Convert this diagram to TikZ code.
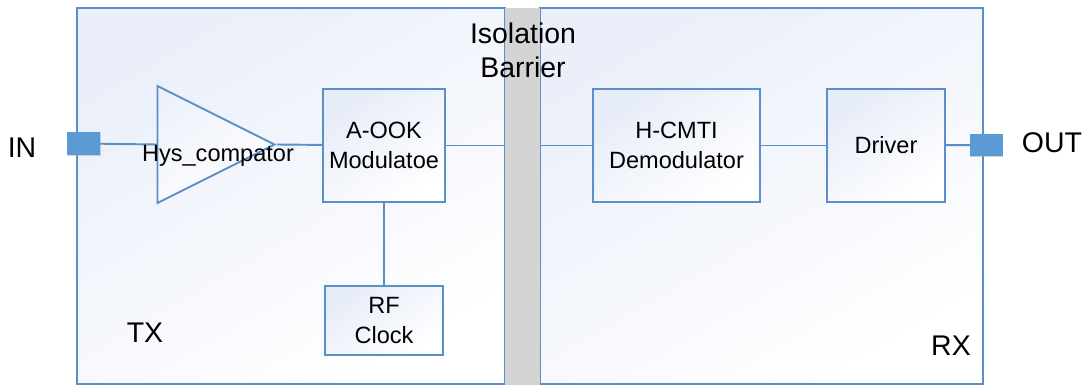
\documentclass[tikz,border=0pt]{standalone}
\usepackage{fontspec}
\setmainfont{Liberation Sans}
\usepackage{tikz}
\usetikzlibrary{shapes}
\usetikzlibrary{shapes.geometric}
\usetikzlibrary{shadows}
\pgfdeclarelayer{bglayer}
\pgfdeclarelayer{edgelayer}
\pgfdeclarelayer{nodelayer}
\pgfsetlayers{bglayer,edgelayer,nodelayer,main}
\definecolor{lineblue}{RGB}{91,143,201}
\definecolor{portblue}{RGB}{91,155,213}
\definecolor{shadeblue}{RGB}{230,236,248}
\definecolor{barriergray}{RGB}{212,212,212}
\tikzstyle{none}=[inner sep=0pt]
\tikzstyle{block}=[rectangle, draw=lineblue, line width=1.1pt, top color=shadeblue, bottom color=white, shading angle=35, align=center, font=\fontsize{13.4}{17}\selectfont]
\tikzstyle{side}=[rectangle, draw=lineblue, line width=1.1pt, top color=shadeblue!85, bottom color=white, shading angle=30]
\tikzstyle{port}=[rectangle, fill=portblue, minimum width=0.66cm, minimum height=0.46cm, drop shadow={shadow xshift=0.4pt, shadow yshift=-0.4pt, fill=black!35}]
\tikzstyle{bigtext}=[inner sep=0pt, font=\fontsize{16.2}{19.3}\selectfont, align=center]
\tikzstyle{wire}=[draw=lineblue, line width=1.1pt]

\begin{document}
\begin{tikzpicture}[x=0.02cm, y=-0.02cm]
	\useasboundingbox (0, 0) rectangle (1087, 385);
	\begin{pgfonlayer}{bglayer}
		\node [style=side, minimum width=8.56cm, minimum height=7.52cm] (14) at (291, 196) {};
		\node [style=side, minimum width=8.86cm, minimum height=7.52cm] (15) at (761.5, 196) {};
		\node [style=none, rectangle, fill=barriergray, minimum width=0.7cm, minimum height=7.56cm] (10) at (522.5, 196.5) {};
	\end{pgfonlayer}
	\begin{pgfonlayer}{nodelayer}
		\node [style=port] (0) at (83.5, 143.5) {};
		\node [style=bigtext] (1) at (22, 148) {IN};
		\node [style=none, isosceles triangle, isosceles triangle stretches, minimum width=2.34cm, minimum height=2.34cm, draw=lineblue, line width=1.1pt, top color=shadeblue!70, bottom color=white, shading angle=35, anchor=apex] (2) at (277, 144.5) {};
		\node [style=none, anchor=base, font=\fontsize{13.4}{15}\selectfont] (3) at (218, 161) {Hys\_compator};
		\node [style=block, minimum width=2.36cm, minimum height=2.26cm] (4) at (384, 145.5) {A-OOK\\Modulatoe};
		\node [style=block, minimum width=2.36cm, minimum height=1.38cm] (5) at (384, 320.5) {RF\\Clock};
		\node [style=block, minimum width=3.34cm, minimum height=2.26cm] (6) at (676.5, 145.5) {H-CMTI\\Demodulator};
		\node [style=block, minimum width=2.36cm, minimum height=2.26cm] (7) at (886, 145.5) {Driver};
		\node [style=port] (8) at (986, 145) {};
		\node [style=bigtext, anchor=base] (9) at (1052, 152) {OUT};
		\node [style=bigtext] (11) at (523, 50) {Isolation\\Barrier};
		\node [style=bigtext, anchor=base] (12) at (145, 342) {TX};
		\node [style=bigtext, anchor=base] (13) at (951, 355) {RX};
	\end{pgfonlayer}
	\begin{pgfonlayer}{edgelayer}
		\draw [style=wire] (0.center) to (2.lower side);
		\draw [style=wire] (2.apex) to (4.center);
		\draw [style=wire] (4.center) to (4 -| 10.west);
		\draw [style=wire] (10.east |- 6) to (6.center);
		\draw [style=wire] (6.center) to (7.center);
		\draw [style=wire] (7.center) to (8.center);
		\draw [style=wire] (4.center) to (5.center);
	\end{pgfonlayer}
\end{tikzpicture}
\end{document}
